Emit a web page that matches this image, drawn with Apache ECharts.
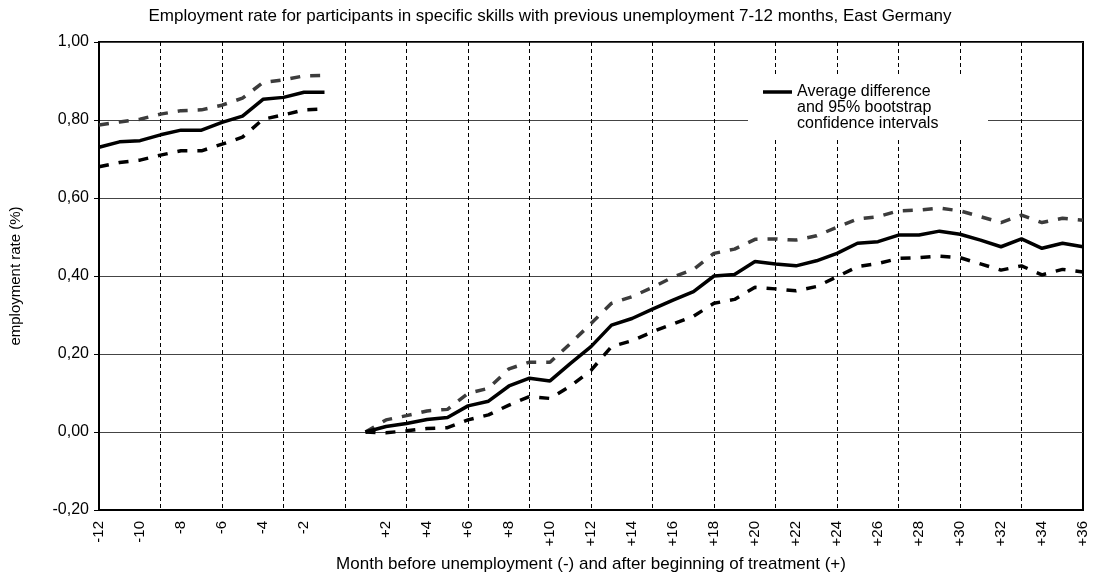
<!DOCTYPE html>
<html>
<head>
<meta charset="utf-8">
<script src="https://cdn.jsdelivr.net/npm/echarts@6/dist/echarts.min.js"></script>
<style>
  html, body { margin: 0; padding: 0; background: #fff; }
  #chart { width: 1100px; height: 579px; }
</style>
</head>
<body>
<div id="chart"></div>
<script>
// Months relative to unemployment start (negative) and treatment start (positive)
const months = [-12, -11, -10, -9, -8, -7, -6, -5, -4, -3, -2, -1, 0,
  1, 2, 3, 4, 5, 6, 7, 8, 9, 10, 11, 12, 13, 14, 15, 16, 17, 18,
  19, 20, 21, 22, 23, 24, 25, 26, 27, 28, 29, 30, 31, 32, 33, 34, 35, 36];

// Months -12 .. -1
const preMean  = [0.730, 0.744, 0.747, 0.762, 0.774, 0.774, 0.794, 0.810, 0.853, 0.858, 0.871, 0.871];
const preUpper = [0.787, 0.795, 0.802, 0.815, 0.824, 0.826, 0.838, 0.856, 0.896, 0.903, 0.913, 0.914];
const preLower = [0.680, 0.691, 0.697, 0.710, 0.721, 0.721, 0.738, 0.756, 0.802, 0.813, 0.826, 0.828];

// Months +1 .. +36
const postMean = [0.000, 0.014, 0.022, 0.032, 0.037, 0.067, 0.079, 0.118, 0.138, 0.131, 0.176, 0.219,
  0.274, 0.291, 0.315, 0.338, 0.360, 0.400, 0.404, 0.437, 0.431, 0.426, 0.439, 0.458,
  0.484, 0.488, 0.505, 0.505, 0.515, 0.507, 0.492, 0.475, 0.495, 0.471, 0.484, 0.475];
const postUpper = [0.000, 0.031, 0.042, 0.054, 0.058, 0.099, 0.112, 0.162, 0.179, 0.179, 0.227, 0.278,
  0.330, 0.347, 0.371, 0.397, 0.417, 0.458, 0.469, 0.494, 0.495, 0.492, 0.503, 0.525,
  0.546, 0.552, 0.567, 0.569, 0.574, 0.567, 0.552, 0.537, 0.556, 0.537, 0.548, 0.543];
const postLower = [0.000, -0.002, 0.003, 0.009, 0.011, 0.031, 0.044, 0.069, 0.091, 0.086, 0.118, 0.158,
  0.219, 0.234, 0.257, 0.277, 0.297, 0.330, 0.340, 0.371, 0.367, 0.362, 0.373, 0.398,
  0.424, 0.432, 0.445, 0.447, 0.451, 0.447, 0.431, 0.415, 0.426, 0.403, 0.417, 0.410];

const titleText = 'Employment rate for participants in specific skills with previous unemployment 7-12 months, East Germany';
const xName = 'Month before unemployment (-) and after beginning of treatment (+)';
const yName = 'employment rate (%)';
const legendText = 'Average difference\nand 95% bootstrap\nconfidence intervals';

const FONT = 'Liberation Sans, Arial, sans-serif';

// Join the pre and post periods on one month axis, leaving a gap at month 0
function joinPeriods(pre, post) {
  return months.map(m => (m < 0 ? pre[m + 12] : m === 0 ? null : post[m - 1]));
}

const chart = echarts.init(document.getElementById('chart'));

chart.setOption({
  animation: false,
  backgroundColor: '#fff',
  title: {
    text: titleText,
    left: 'center',
    top: 3,
    textStyle: { fontFamily: FONT, fontSize: 17, fontWeight: 'normal', color: '#000' }
  },
  grid: {
    left: 97, right: 17, top: 42, bottom: 69,
    show: true, borderColor: '#000', borderWidth: 2, backgroundColor: 'transparent'
  },
  xAxis: {
    type: 'category',
    data: months.map(String),
    boundaryGap: false,
    name: xName,
    nameLocation: 'middle',
    nameGap: 46,
    nameTextStyle: { fontFamily: FONT, fontSize: 17, color: '#000' },
    axisLine: { show: true, onZero: false, lineStyle: { color: '#000', width: 2 } },
    axisTick: { show: false },
    axisLabel: {
      interval: (i, v) => i % 2 === 0 && v !== '0',
      rotate: 90,
      margin: 11,
      fontFamily: FONT,
      fontSize: 15,
      color: '#000',
      formatter: v => (Number(v) > 0 ? '+' + v : v)
    },
    splitLine: {
      show: true,
      interval: (i) => i > 0 && i < months.length - 1 && i % 3 === 0,
      lineStyle: { color: '#000', width: 1, type: [4, 3] }
    }
  },
  yAxis: {
    type: 'value',
    min: -0.2,
    max: 1.0,
    interval: 0.2,
    name: yName,
    nameLocation: 'middle',
    nameGap: 76,
    nameTextStyle: { fontFamily: FONT, fontSize: 15, color: '#000' },
    axisLine: { show: true, lineStyle: { color: '#000', width: 2 } },
    axisTick: { show: true, length: 5, lineStyle: { color: '#000', width: 1 } },
    axisLabel: {
      margin: 10,
      fontFamily: FONT,
      fontSize: 16,
      color: '#000',
      formatter: v => (Math.abs(v) < 1e-9 ? 0 : v).toFixed(2).replace('.', ',')
    },
    splitLine: { show: true, lineStyle: { color: '#444', width: 1 } }
  },
  series: [
    {
      name: 'Upper bound',
      type: 'line',
      data: joinPeriods(preUpper, postUpper),
      symbol: 'none',
      connectNulls: false,
      lineStyle: { color: '#3c3c3c', width: 3.5, type: [10, 10] },
      z: 3
    },
    {
      name: 'Lower bound',
      type: 'line',
      data: joinPeriods(preLower, postLower),
      symbol: 'none',
      connectNulls: false,
      lineStyle: { color: '#000', width: 3.5, type: [10, 10] },
      z: 3
    },
    {
      name: 'Average difference',
      type: 'line',
      data: joinPeriods(preMean, postMean),
      symbol: 'none',
      connectNulls: false,
      lineStyle: { color: '#000', width: 3.5 },
      z: 4
    }
  ],
  graphic: [
    {
      type: 'rect',
      shape: { x: 748, y: 76, width: 240, height: 61 },
      style: { fill: '#fff' },
      z: 100
    },
    {
      type: 'line',
      shape: { x1: 763, y1: 92, x2: 792, y2: 92 },
      style: { stroke: '#000', lineWidth: 3.5 },
      z: 101
    },
    {
      type: 'text',
      x: 797,
      y: 84,
      style: {
        text: legendText,
        fontFamily: FONT,
        fontSize: 16,
        lineHeight: 16,
        fill: '#000',
        verticalAlign: 'top'
      },
      z: 101
    }
  ]
});
</script>
</body>
</html>
